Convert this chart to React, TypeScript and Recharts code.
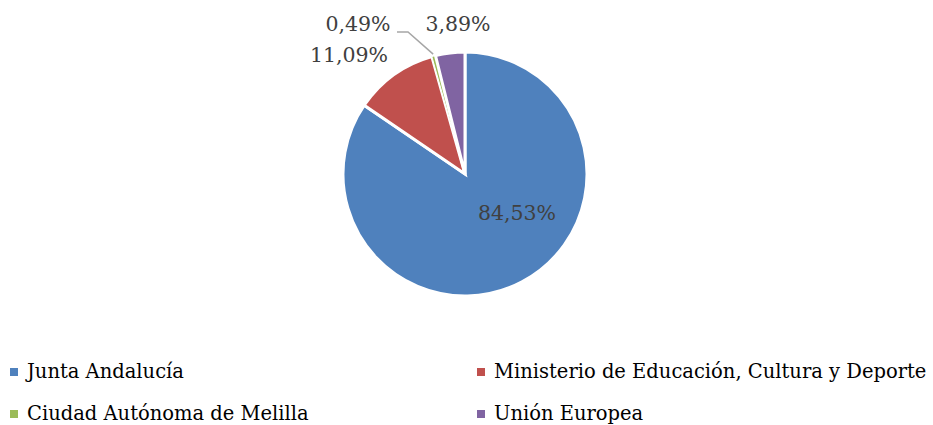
import React from "react";
import { PieChart, Pie, Cell, Legend } from "recharts";

const SOURCES = [
  "Junta Andalucía",
  "Ministerio de Educación, Cultura y Deporte",
  "Ciudad Autónoma de Melilla",
  "Unión Europea",
];
const SHARES = [84.53, 11.09, 0.49, 3.89];
const FILLS = ["#4F81BD", "#C0504D", "#9BBB59", "#8064A2"];

const data = SOURCES.map((name, i) => ({ name, value: SHARES[i], fill: FILLS[i] }));

const FONT = "'DejaVu Serif', serif";
const LABEL_COLOR = "#404040";

// label centre offsets from the pie centre, as Excel placed them
const LABEL_OFFSET: [number, number][] = [
  [52, 39],
  [-116, -119],
  [-107, -150],
  [-7, -150],
];

const fmt = (v: number) => `${v.toFixed(2).replace(".", ",")}%`;

function renderLabel(props: any) {
  const { cx, cy, index, value } = props;
  const [dx, dy] = LABEL_OFFSET[index];
  return (
    <text
      x={cx + dx}
      y={cy + dy}
      textAnchor="middle"
      dominantBaseline="central"
      fill={LABEL_COLOR}
      fontSize={20.5}
      fontFamily={FONT}
    >
      {fmt(value)}
    </text>
  );
}

function renderLabelLine(props: any) {
  const { cx, cy, index, midAngle, outerRadius } = props;
  if (index !== 2) return <g />;
  const rad = (Math.PI / 180) * midAngle;
  const x0 = cx + (outerRadius + 2) * Math.cos(rad);
  const y0 = cy - (outerRadius + 2) * Math.sin(rad);
  const [dx, dy] = LABEL_OFFSET[index];
  const x1 = cx + dx + 50;
  const y1 = cy + dy + 8;
  return (
    <polyline
      points={`${x0},${y0} ${x1},${y1} ${x1 - 11},${y1}`}
      fill="none"
      stroke="#A6A6A6"
      strokeWidth={1.5}
    />
  );
}

function renderLegend() {
  return (
    <div
      style={{
        display: "grid",
        gridTemplateColumns: "467px 466px",
        rowGap: 21,
        fontFamily: FONT,
        fontSize: 19.5,
        color: "#000",
      }}
    >
      {data.map((d) => (
        <div key={d.name} style={{ display: "flex", alignItems: "center", height: 21, paddingLeft: 10 }}>
          <span style={{ width: 8, height: 8, background: d.fill, marginRight: 9, flex: "none" }} />
          <span style={{ whiteSpace: "nowrap" }}>{d.name}</span>
        </div>
      ))}
    </div>
  );
}

export default function App() {
  return (
    <div style={{ position: "absolute", left: 0, top: 0, background: "#fff" }}>
      <PieChart width={933} height={425} margin={{ top: 0, right: 0, bottom: 0, left: 0 }}>
        <Pie
          data={data}
          dataKey="value"
          nameKey="name"
          cx={465}
          cy={174}
          outerRadius={122}
          startAngle={90}
          endAngle={-270}
          stroke="#fff"
          strokeWidth={3}
          label={renderLabel}
          labelLine={renderLabelLine}
          isAnimationActive={false}
        >
          {data.map((d, i) => (
            <Cell key={d.name} fill={d.fill} strokeWidth={i === 2 ? 1 : 3} />
          ))}
        </Pie>
        <Legend
          content={renderLegend}
          wrapperStyle={{ left: 0, top: 361, width: 933 }}
        />
      </PieChart>
    </div>
  );
}
